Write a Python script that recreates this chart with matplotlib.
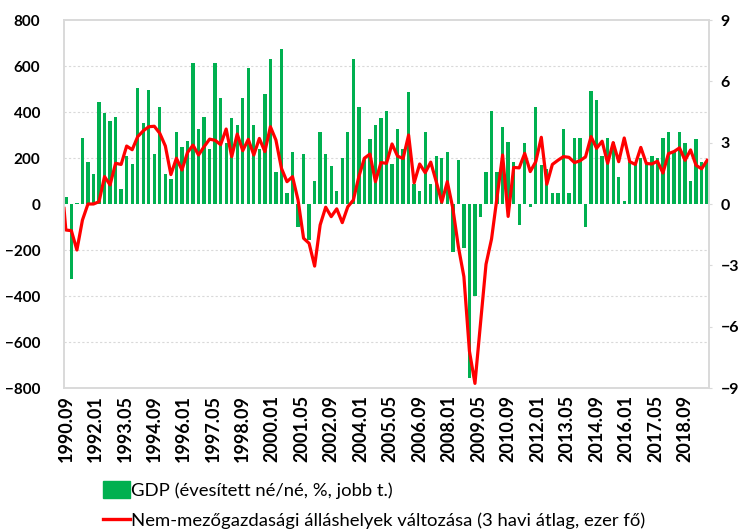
import numpy as np
import matplotlib
matplotlib.use("Agg")
import matplotlib.pyplot as plt
from matplotlib.lines import Line2D
from matplotlib.patches import Patch

# quarterly GDP, annualised q/q %, 1990.09 .. 2019.09 (right axis)
gdp = [
    0.33, -3.65, 0.05, 3.25, 2.06, 1.45, 4.98, 4.44, 4.06, 4.26,
    0.73, 2.35, 1.96, 5.66, 3.96, 5.56, 2.45, 4.76, 1.45, 1.22,
    3.54, 2.77, 3.07, 6.88, 3.67, 4.26, 2.68, 6.88, 5.17, 3.0,
    4.19, 3.88, 5.17, 6.67, 3.87, 2.7, 5.37, 7.08, 1.55, 7.57,
    0.55, 2.56, -1.14, 2.45, -1.76, 1.14, 3.54, 2.45, 1.88, 0.65,
    2.27, 3.54, 7.08, 4.76, 2.27, 3.18, 3.87, 4.19, 4.57, 1.96,
    3.67, 2.68, 5.46, 0.98, 0.65, 3.54, 0.96, 2.35, 2.27, 2.56,
    -2.37, 2.14, -2.17, -8.5, -4.49, -0.65, 1.55, 4.57, 1.55, 3.78,
    3.05, 2.07, -1.03, 2.97, -0.13, 4.76, 1.9, 1.72, 0.55, 0.55,
    3.66, 0.55, 3.25, 3.25, -1.12, 5.55, 5.09, 2.35, 3.25, 3.05,
    1.34, 0.13, 2.07, 2.0, 2.23, 2.0, 2.35, 2.23, 3.25, 3.54,
    2.6, 3.54, 2.97, 1.14, 3.18, 2.07, 2.1,
]
# non-farm payrolls change, 3-month avg, thousand (left axis); first reading 1990.08
payrolls = [
    -19,
    -113, -116, -200, -70, 0, 0, 10, 119, 83, 177,
    172, 252, 236, 293, 318, 336, 338, 307, 252, 128,
    199, 148, 224, 256, 213, 249, 282, 277, 258, 326,
    206, 304, 232, 281, 213, 285, 228, 336, 278, 155,
    97, 119, 17, -149, -171, -270, -91, -14, -55, -21,
    -81, -12, 17, 119, 199, 217, 97, 180, 177, 261,
    208, 198, 300, 92, 174, 136, 182, 97, 8, 97,
    -19, -186, -316, -640, -780, -520, -262, -152, 30, 213,
    -54, 159, 157, 220, 141, 184, 290, 86, 172, 190,
    206, 203, 180, 188, 205, 293, 242, 273, 177, 267,
    184, 287, 184, 172, 246, 176, 174, 186, 135, 219,
    228, 244, 190, 235, 168, 153, 190,
]
tick_labels = [
    "1990.09", "1992.01", "1993.05", "1994.09", "1996.01", "1997.05",
    "1998.09", "2000.01", "2001.05", "2002.09", "2004.01", "2005.05",
    "2006.09", "2008.01", "2009.05", "2010.09", "2012.01", "2013.05",
    "2014.09", "2016.01", "2017.05", "2018.09",
]
left_ticks = [-800, -600, -400, -200, 0, 200, 400, 600, 800]
right_ticks = [-9, -6, -3, 0, 3, 6, 9]

GREEN = "#00B050"
RED = "#FF0000"
GRID = "#D9D9D9"
plt.rcParams["font.family"] = ["Lato", "DejaVu Sans"]

# months since 1990.09
gdp_x = np.arange(len(gdp)) * 3
pay_x = np.r_[-1, np.arange(len(payrolls) - 1) * 3]
tick_x = np.arange(len(tick_labels)) * 16

fig = plt.figure(figsize=(7.42, 5.32), dpi=100)
ax = fig.add_axes([64 / 742, 1 - 388 / 532, (709 - 64) / 742, (388 - 20) / 532])
ax2 = ax.twinx()
ax.set_zorder(2)
ax2.set_zorder(1)
ax.patch.set_visible(False)

ax2.bar(gdp_x, gdp, width=1.8, color=GREEN, zorder=2)
ax2.set_ylim(-9, 9)
ax2.set_yticks(right_ticks)
ax2.set_yticks(np.array(left_ticks) * 9 / 800, minor=True)
ax2.grid(which="minor", color=GRID, linestyle=(0, (2, 2)), linewidth=0.8)
ax2.set_axisbelow(True)
ax2.tick_params(axis="y", which="major", length=2.5, color=GRID, pad=6,
                labelsize=11.5)
ax2.tick_params(axis="y", which="minor", length=0)
for lbl in ax2.get_yticklabels():
    lbl.set_fontweight("bold")

ax.plot(pay_x, payrolls, color=RED, linewidth=2.3, solid_joinstyle="round")
ax.set_ylim(-800, 800)
ax.set_yticks(left_ticks)
ax.set_xlim(-1, 349)
ax.set_xticks(tick_x)
ax.set_xticklabels(tick_labels, rotation=90)
ax.tick_params(axis="y", length=0, pad=17, labelsize=11)
ax.tick_params(axis="x", length=0, pad=5, labelsize=13)
for lbl in ax.get_yticklabels() + ax.get_xticklabels():
    lbl.set_fontweight("bold")

for a in (ax, ax2):
    for spine in a.spines.values():
        spine.set_color(GRID)
        spine.set_linewidth(1.2)

handles = [
    Patch(facecolor=GREEN, edgecolor=GREEN),
    Line2D([0], [0], color=RED, linewidth=2.4),
]
labels = [
    "GDP (évesített né/né, %, jobb t.)",
    "Nem-mezőgazdasági álláshelyek változása (3 havi átlag, ezer fő)",
]
fig.legend(handles, labels, loc="lower left",
           bbox_to_anchor=(100 / 742, 0.0), borderaxespad=0, borderpad=0.15,
           frameon=False, fontsize=13.3, handlelength=1.45, handleheight=1.1,
           handletextpad=0.1, labelspacing=0.66)

fig.savefig("out.png")
